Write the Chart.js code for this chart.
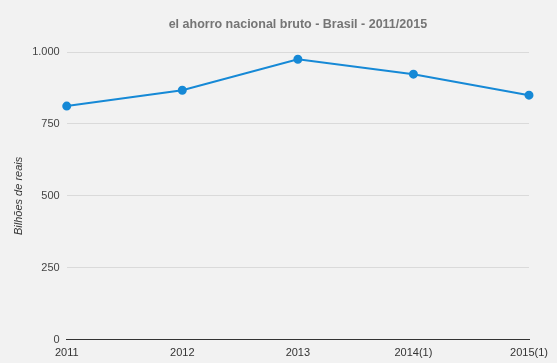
<!DOCTYPE html>
<html>
<head>
<meta charset="utf-8">
<script src="https://cdn.jsdelivr.net/npm/chart.js@4"></script>
<style>
  html, body { margin: 0; padding: 0; background: #f2f2f2; }
  .chart-box { width: 557px; height: 363px; }
</style>
</head>
<body>
<div class="chart-box"><canvas class="js-chart"></canvas></div>
<script>
// ***** data
const years = ['2011', '2012', '2013', '2014(1)', '2015(1)'];
const savings = [812, 867, 975, 923, 850];
const yTicks = [0, 250, 500, 750, 1000];

const ctx = document.querySelector('.js-chart').getContext('2d');

Chart.defaults.font.family = '"Liberation Sans", Arial, sans-serif';

const chart = new Chart(ctx, {
  type: 'line',
  data: {
    labels: years,
    datasets: [
      {
        label: 'Bilhões de reais',
        data: savings,
        borderColor: '#1689d6',
        backgroundColor: '#1689d6',
        borderWidth: 2,
        pointRadius: 3.5,
        pointHoverRadius: 4,
        tension: 0,
        fill: false,
      },
    ],
  },
  options: {
    responsive: true,
    maintainAspectRatio: false,
    animation: false,
    layout: { padding: { left: 12, right: 28, top: 7, bottom: -4 } },
    plugins: {
      legend: { display: false },
      tooltip: { enabled: false },
      title: {
        display: true,
        fullSize: false,
        text: 'el ahorro nacional bruto - Brasil - 2011/2015',
        color: '#757575',
        font: { size: 12.5, weight: 'bold' },
        padding: { top: 10, bottom: 20 },
      },
    },
    scales: {
      x: {
        offset: false,
        grid: { display: false, drawTicks: false },
        border: { display: true, color: '#333333', width: 1 },
        ticks: { color: '#333333', font: { size: 11 }, padding: 7, maxRotation: 0, autoSkip: false },
      },
      y: {
        min: 0,
        max: 1000,
        afterBuildTicks: axis => {
          axis.ticks = yTicks.map(v => ({ value: v }));
        },
        grid: {
          drawTicks: false,
          color: c => (c.tick && c.tick.value === 0 ? 'rgba(0,0,0,0)' : '#dadada'),
        },
        border: { display: false },
        ticks: {
          color: '#444444',
          font: { size: 11 },
          padding: 7,
          callback: v => v.toLocaleString('pt-BR'),
        },
        title: {
          display: true,
          text: 'Bilhões de reais',
          color: '#333333',
          font: { size: 11, style: 'italic' },
          padding: { top: 0, bottom: 0 },
        },
      },
    },
  },
});
</script>
</body>
</html>
